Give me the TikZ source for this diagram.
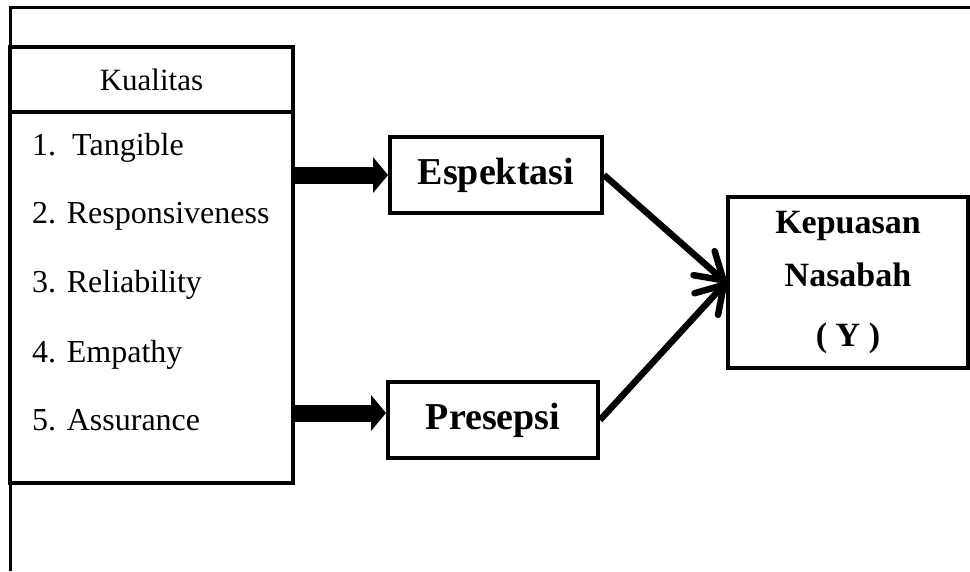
\documentclass[tikz,border=0pt]{standalone}
\usepackage{fontspec}
\setmainfont{Liberation Serif}
\usetikzlibrary{arrows.meta}

\begin{document}
\begin{tikzpicture}[x=1pt, y=-1pt,
  box/.style={draw, line width=4pt, inner sep=0pt},
  item/.style={anchor=base west, inner sep=0pt, font=\fontsize{32}{38}\selectfont},
  fatarrow/.style={line width=17pt, -{Triangle[length=15pt,width=36pt,line width=0pt]}},
  slimarrow/.style={line width=6.5pt, -{Straight Barb[length=26pt,width=32pt,round]}}]

\useasboundingbox (0,0) rectangle (970,571);

% -------- frame -----------
\draw [line width=3pt] (10,571) -- (10,7) -- (970,7);

% -------- Kualitas box -----------
\node [box, minimum width=283pt, minimum height=65pt, font=\fontsize{31}{36}\selectfont] (kual) at (151.5,79.5) {Kualitas};
\node [box, minimum width=283pt, minimum height=371pt] (list) at (151.5,297.5) {};

\node [item] (tang) at (32,155) {1.\ \ Tangible};
\node [item] (resp) at (32,223) {2. Responsiveness};
\node [item] (reli) at (32,292) {3. Reliability};
\node [item] (empa) at (32,362) {4. Empathy};
\node [item] (assu) at (32,430) {5. Assurance};

% -------- middle and right -----------
\node [box, minimum width=212pt, minimum height=76pt, font=\bfseries\fontsize{38}{42}\selectfont] (espek) at (496,175) {Espektasi};
\node [box, minimum width=210pt, minimum height=76pt, font=\bfseries\fontsize{38}{42}\selectfont] (pres) at (493,420) {Presepsi};
\node [box, minimum width=240pt, minimum height=171pt, align=center, font=\bfseries\fontsize{34}{53}\selectfont] (kep) at (848,282.5) {Kepuasan\\Nasabah\\[7pt]( Y )};

\coordinate (presin) at ([yshift=7pt]pres.west);

% -------- arrows -----------
\draw [fatarrow] (espek.west -| list.east) -- (espek.west);
\draw [fatarrow] (presin -| list.east) -- (presin);
\draw [slimarrow] (espek.east) -- (kep.west);
\draw [slimarrow] (pres.east) -- (kep.west);

\end{tikzpicture}
\end{document}
